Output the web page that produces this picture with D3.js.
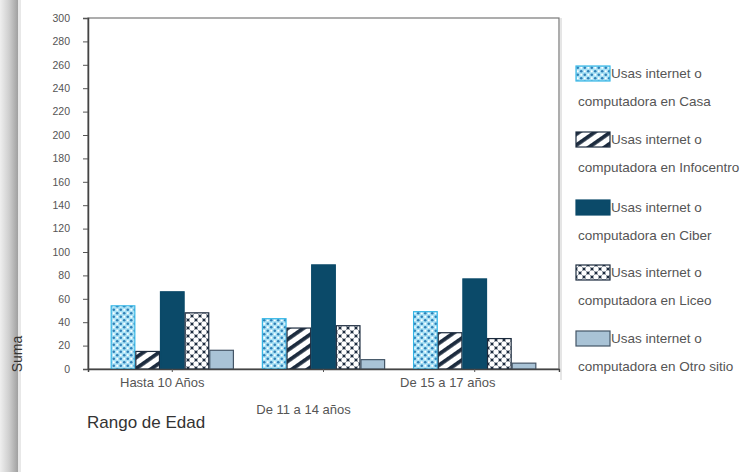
<!DOCTYPE html>
<html><head><meta charset="utf-8">
<script src="https://cdn.jsdelivr.net/npm/d3@7"></script>
<style>body{margin:0;background:#fff}svg{display:block}svg text{font-family:"Liberation Sans",Arial,sans-serif}</style>
</head><body><svg id="c" width="743" height="472"></svg>
<script>
const categories = ["Hasta 10 Años", "De 11 a 14 años", "De 15 a 17 años"];
const seriesNames = ["Usas internet o computadora en Casa","Usas internet o computadora en Infocentro","Usas internet o computadora en Ciber","Usas internet o computadora en Liceo","Usas internet o computadora en Otro sitio"];
const legendLine1 = ["Usas internet o","Usas internet o","Usas internet o","Usas internet o","Usas internet o"];
const legendLine2 = ["computadora en Casa","computadora en Infocentro","computadora en Ciber","computadora en Liceo","computadora en Otro sitio"];
const casa = [54, 43, 49];
const infocentro = [15, 35, 31];
const ciber = [66, 89, 77];
const liceo = [48, 37, 26];
const otro = [16, 8, 5];
const yTicks = [0,20,40,60,80,100,120,140,160,180,200,220,240,260,280,300];

const values = [casa, infocentro, ciber, liceo, otro];
const svg = d3.select("#c");
const defs = svg.append("defs");

// left shaded strip
const g1 = defs.append("linearGradient").attr("id","edge").attr("x1","0").attr("x2","1");
g1.append("stop").attr("offset","0").attr("stop-color","#efefef");
g1.append("stop").attr("offset","0.5").attr("stop-color","#cfcfcf");
g1.append("stop").attr("offset","1").attr("stop-color","#a0a0a0");
svg.append("rect").attr("x",0).attr("y",0).attr("width",18).attr("height",472).attr("fill","url(#edge)");
svg.append("rect").attr("x",18).attr("y",0).attr("width",3).attr("height",472).attr("fill","#e8e8e8");

// patterns
const pCasa = defs.append("pattern").attr("id","pCasa").attr("patternUnits","userSpaceOnUse").attr("width",7).attr("height",7);
pCasa.append("rect").attr("width",7).attr("height",7).attr("fill","#a9e1f5");
pCasa.append("circle").attr("cx",1.75).attr("cy",1.75).attr("r",1.3).attr("fill","#2f7fb6");
pCasa.append("circle").attr("cx",5.25).attr("cy",5.25).attr("r",1.3).attr("fill","#2f7fb6");
pCasa.append("circle").attr("cx",5.25).attr("cy",1.75).attr("r",1.0).attr("fill","#ffffff");
pCasa.append("circle").attr("cx",1.75).attr("cy",5.25).attr("r",1.0).attr("fill","#ffffff");

const pInfo = defs.append("pattern").attr("id","pInfo").attr("patternUnits","userSpaceOnUse").attr("width",9).attr("height",9).attr("patternTransform","rotate(-35)");
pInfo.append("rect").attr("width",9).attr("height",9).attr("fill","#ffffff");
pInfo.append("rect").attr("width",9).attr("height",3.8).attr("fill","#1c2b3e");

const pLiceo = defs.append("pattern").attr("id","pLiceo").attr("patternUnits","userSpaceOnUse").attr("width",8).attr("height",8);
pLiceo.append("rect").attr("width",8).attr("height",8).attr("fill","#1c2b3e");
pLiceo.append("circle").attr("cx",4).attr("cy",4).attr("r",2.7).attr("fill","#ffffff");
[[0,0],[8,0],[0,8],[8,8]].forEach(p=>pLiceo.append("circle").attr("cx",p[0]).attr("cy",p[1]).attr("r",2.7).attr("fill","#ffffff"));

const fills = ["url(#pCasa)","url(#pInfo)","#0b4a69","url(#pLiceo)","#a9c3d6"];
const strokes = ["#35b6e6","#1c2b3e","#0b4a69","#1c2b3e","#445566"];

const x0 = 88, x1 = 559, yTop = 18, yBot = 369;
const x = d3.scaleBand().domain(categories).range([x0, x1]).paddingInner(0.185).paddingOuter(0.15);
const xs = d3.scaleBand().domain(d3.range(5)).range([0, x.bandwidth()]);
const y = d3.scaleLinear().domain([0,300]).range([yBot, yTop]);

// frame
svg.append("rect").attr("x",x0).attr("y",yTop).attr("width",x1-x0).attr("height",yBot-yTop).attr("fill","#fff").attr("stroke","#777").attr("stroke-width",1.2);

// bars
categories.forEach((c,ci)=>{
  values.forEach((arr,si)=>{
    svg.append("rect")
      .attr("x", x(c)+xs(si)+0.5)
      .attr("y", y(arr[ci]))
      .attr("width", xs.bandwidth()-1)
      .attr("height", y(0)-y(arr[ci]))
      .attr("fill", fills[si]).attr("stroke", strokes[si]).attr("stroke-width",1.2);
  });
});

// y axis
const yAxis = d3.axisLeft(y).tickValues(yTicks).tickSize(5).tickPadding(13);
const ya = svg.append("g").attr("transform",`translate(${x0},0)`).call(yAxis);
ya.select(".domain").attr("stroke","#444").attr("stroke-width",1.5);
ya.selectAll(".tick line").attr("stroke","#555");
ya.selectAll("text").attr("fill","#555").attr("font-size",10.5).attr("font-family","Liberation Sans, Arial, sans-serif");

// x axis
const xAxis = d3.axisBottom(x).tickSize(3).tickFormat("");
const xa = svg.append("g").attr("transform",`translate(0,${yBot})`).call(xAxis);
xa.select(".domain").attr("stroke","#444").attr("stroke-width",1.5);
xa.selectAll(".tick line").attr("stroke","#555");
const labelPos = [[-10,387],[-20,414],[-27,387]];
categories.forEach((c,i)=>{
  svg.append("text").attr("x", x(c)+x.bandwidth()/2+labelPos[i][0]).attr("y", labelPos[i][1])
    .attr("text-anchor","middle").attr("font-size",13).attr("fill","#555").text(c);
});

svg.append("text").attr("x",87).attr("y",428).attr("font-size",17).attr("fill","#333").text("Rango de Edad");
svg.append("text").attr("transform","translate(22,354) rotate(-90)").attr("text-anchor","middle").attr("font-size",14).attr("fill","#333").text("Suma");

// legend separator line
svg.append("line").attr("x1",561).attr("x2",561).attr("y1",18).attr("y2",380).attr("stroke","#ccc");

// legend
const legY = [66, 132, 200, 265, 331];
seriesNames.forEach((s,i)=>{
  const g = svg.append("g").attr("transform",`translate(576,${legY[i]})`);
  g.append("rect").attr("x",0).attr("y",0).attr("width",34).attr("height",15).attr("fill",fills[i]).attr("stroke",strokes[i]).attr("stroke-width",1.2);
  g.append("text").attr("x",35).attr("y",12).attr("font-size",13.5).attr("fill","#555").text(legendLine1[i]);
  g.append("text").attr("x",2).attr("y",40).attr("font-size",13.5).attr("fill","#555").text(legendLine2[i]);
});
</script></body></html>
